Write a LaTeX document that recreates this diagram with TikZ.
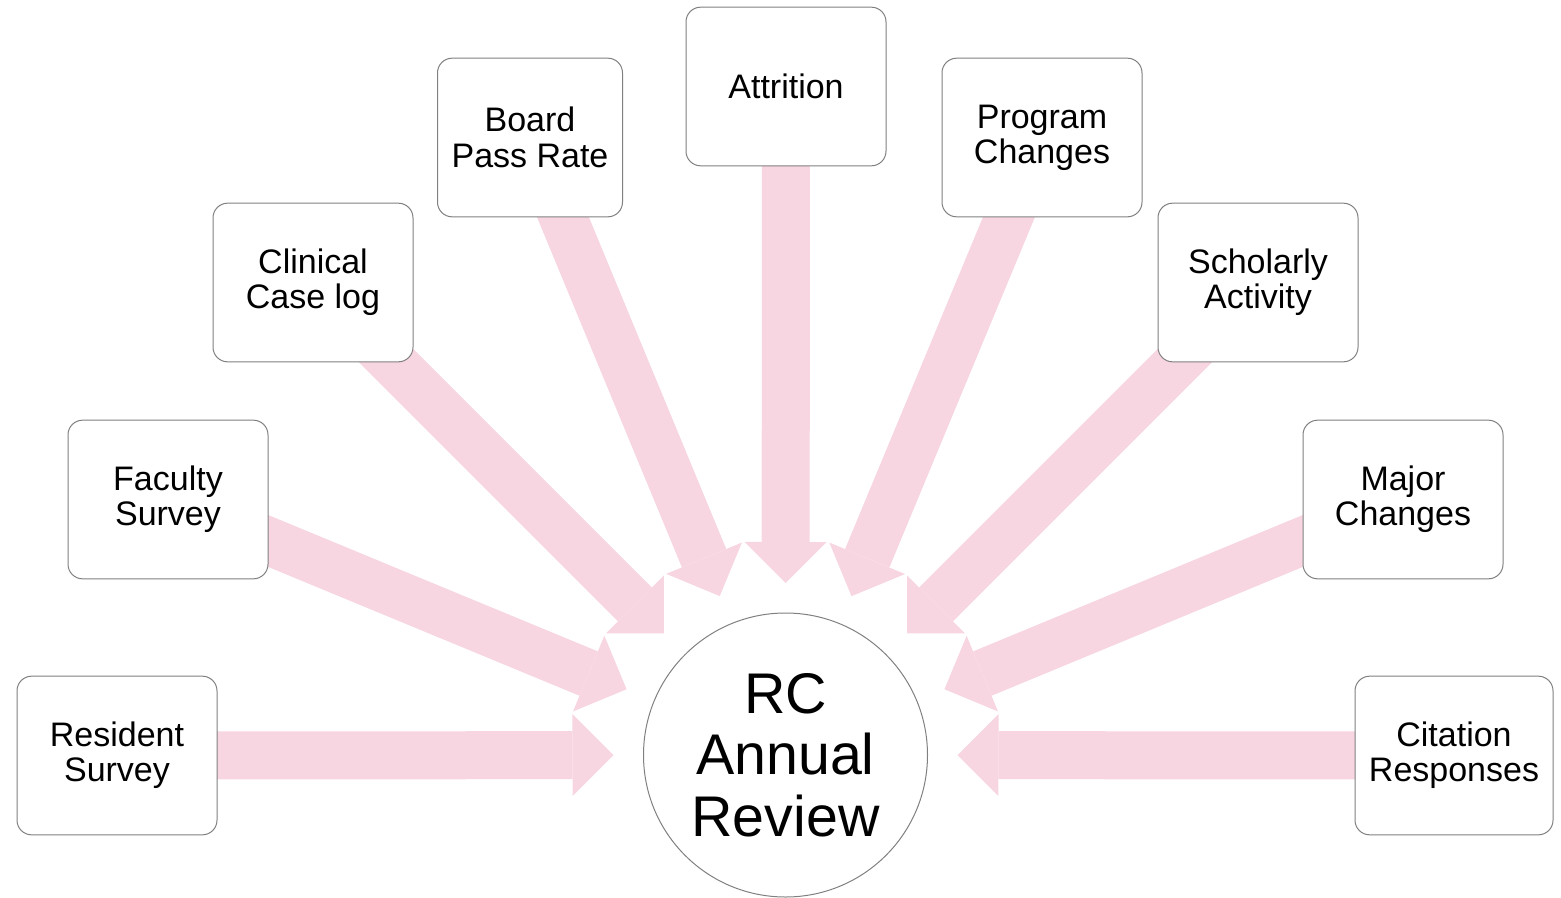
\documentclass[tikz,border=0pt]{standalone}
\usepackage{fontspec}
\setmainfont{Liberation Sans}
\usetikzlibrary{arrows.meta,calc,backgrounds}

\definecolor{feedpink}{RGB}{247,214,226}
\definecolor{edgegray}{RGB}{128,128,128}

\tikzset{every picture/.style={line width=0.75pt}}
\tikzset{
  srcbox/.style={draw=edgegray, fill=white, rounded corners=11pt, minimum width=150pt, minimum height=119pt, inner sep=0pt, align=center, font=\fontsize{25.5}{26.5}\selectfont},
  hub/.style={circle, draw=edgegray, fill=white, minimum size=213pt, inner sep=0pt, align=center, font=\fontsize{43}{46}\selectfont},
  feed/.style={draw=feedpink, line width=36pt, -{Triangle[length=30.75pt,width=61.5pt,line width=0pt]}}
}

\begin{document}
\begin{tikzpicture}[x=0.75pt,y=0.75pt,yscale=-1,xscale=1]
	\useasboundingbox (0,0) rectangle (1561,897);

	% Centre
	\node [hub] (rc) at (785.5,755) {RC\\Annual\\Review};

	% Source boxes
	\node [srcbox] (rs) at (117,755.5) {Resident\\Survey};
	\node [srcbox] (fs) at (168,499.5) {Faculty\\Survey};
	\node [srcbox] (ccl) at (313,282.5) {Clinical\\Case log};
	\node [srcbox, minimum width=138.75pt] (bpr) at (530,137.5) {Board\\Pass Rate};
	\node [srcbox] (att) at (786,86.5) {Attrition};
	\node [srcbox] (pc) at (1042,137.5) {Program\\Changes};
	\node [srcbox] (sa) at (1258,282.5) {Scholarly\\Activity};
	\node [srcbox] (mc) at (1403,499.5) {Major\\Changes};
	\node [srcbox, minimum width=148.5pt] (cr) at (1454,755.5) {Citation\\Responses};

	% Block arrows into the centre
	\begin{scope}[on background layer]
		\foreach \src in {rs,fs,ccl,bpr,att,pc,sa,mc,cr}
			\draw [feed] (\src.center) -- ($(rc.center)!129pt!(\src.center)$);
	\end{scope}

\end{tikzpicture}
\end{document}
